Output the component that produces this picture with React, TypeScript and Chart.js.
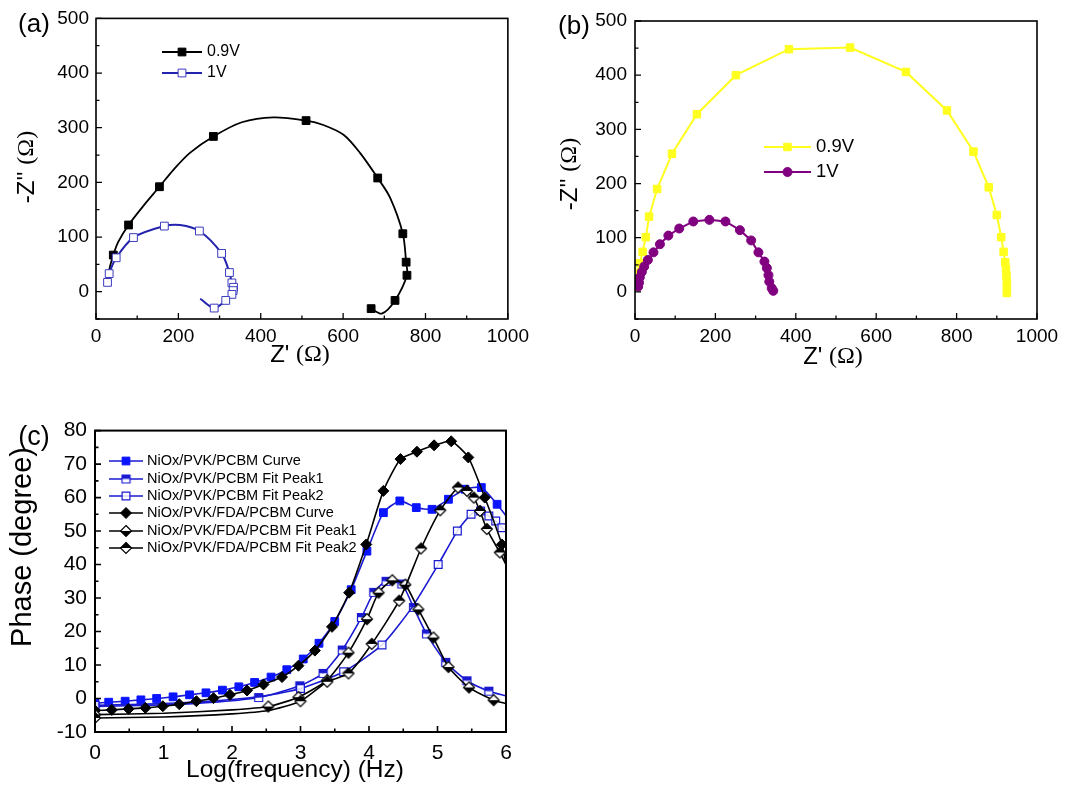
import React, { useEffect, useRef } from 'react';
import { Chart, registerables } from 'chart.js';
import { drawPoint } from 'chart.js/helpers';

Chart.register(...registerables);

const SANS = "Arial, 'Liberation Sans', Helvetica, sans-serif";
const SERIF = "'Times New Roman', 'Liberation Serif', serif";

// ---------- Panel (a): Nyquist ----------
const a09Re = [30, 34, 42, 54, 79, 115, 154, 188, 228, 285, 354, 431, 510, 552, 601, 641, 684, 714, 745, 753, 755, 726, 694, 668];
const a09Im = [30, 46, 67, 91, 122, 157, 192, 223, 254, 284, 310, 319, 313, 305, 287, 254, 208, 172, 106, 54, 30, -16, -40, -31];
const a09NoSymbol = [0, 1, 3, 5, 7, 8, 10, 11, 13, 14, 15, 17, 22];
const a1Re = [28, 32, 49, 91, 166, 204, 251, 305, 324, 330, 334, 333, 330, 315, 287, 253];
const a1Im = [17, 33, 62, 99, 120, 122, 111, 70, 35, 16, 8, 2, -5, -16, -30, -13];
const a1NoSymbol = [5, 15];

// ---------- Panel (b): Nyquist ----------
const b09Re = [3, 6, 12, 19, 27, 35, 55, 92, 154, 251, 383, 535, 674, 776, 842, 880, 900, 911, 917, 921, 923, 924, 925, 925, 925];
const b09Im = [12, 35, 53, 74, 101, 139, 190, 255, 328, 400, 448, 451, 406, 335, 259, 193, 142, 101, 74, 55, 42, 30, 18, 8, -2];
const b1Re = [8, 10, 12, 17, 23, 32, 46, 62, 83, 110, 145, 185, 225, 261, 289, 307, 322, 328, 332, 334, 340, 344];
const b1Im = [10, 17, 27, 37, 47, 59, 73, 88, 104, 117, 130, 133, 130, 114, 95, 73, 56, 44, 31, 19, 7, 2];

// ---------- Panel (c): Bode phase ----------
const cPcbmCurveX = [0, 0.2, 0.44, 0.67, 0.9, 1.14, 1.38, 1.62, 1.86, 2.1, 2.33, 2.57, 2.8, 3.04, 3.27, 3.5, 3.74, 3.97, 4.21, 4.45, 4.69, 4.92, 5.16, 5.4, 5.64, 5.87, 6.0];
const cPcbmCurveY = [-1.4, -1.1, -0.8, -0.4, 0.0, 0.5, 1.1, 1.7, 2.5, 3.5, 4.8, 6.4, 8.6, 11.8, 16.5, 23, 32.5, 44, 55.5, 59, 57, 56.5, 59.5, 62.5, 63, 58, 54.5];
const cPcbmCurveNoSymbol = [26];

const cPcbmPeak1X = [0, 1.0, 1.8, 2.39, 2.99, 3.33, 3.61, 3.89, 4.07, 4.25, 4.48, 4.65, 4.84, 5.12, 5.43, 5.75, 6.0];
const cPcbmPeak1Y = [-2.4, -1.9, -1.0, 0.3, 3.8, 7.5, 14.5, 24.2, 31.7, 35.0, 34.2, 27.2, 19.3, 10.8, 5.3, 2.2, 0.8];
const cPcbmPeak1NoSymbol = [1, 2, 16];

const cPcbmPeak2X = [0, 1.0, 2.0, 2.5, 3.0, 3.63, 4.19, 4.62, 5.01, 5.29, 5.49, 5.63, 5.75, 5.85, 5.94, 6.0];
const cPcbmPeak2Y = [-2.0, -1.5, -0.3, 0.9, 3.0, 8.0, 16, 27, 40, 50, 55, 56, 54.5, 53, 51, 50];
const cPcbmPeak2NoSymbol = [1, 2, 3, 7, 15];

const cFdaCurveX = [0, 0.245, 0.49, 0.735, 0.99, 1.23, 1.48, 1.73, 1.97, 2.22, 2.46, 2.73, 2.97, 3.21, 3.46, 3.71, 3.96, 4.21, 4.46, 4.70, 4.95, 5.20, 5.45, 5.69, 5.94, 6.0];
const cFdaCurveY = [-3.6, -3.4, -3.1, -2.8, -2.3, -1.7, -0.8, 0.1, 1.1, 2.4, 4.2, 6.4, 9.8, 14.3, 21.4, 31.6, 46, 62, 71.5, 73.7, 75.6, 76.8, 72, 60, 46, 40];
const cFdaCurveNoSymbol = [25];

const cFdaPeak1X = [0, 1.0, 2.0, 2.53, 2.97, 3.39, 3.7, 3.97, 4.14, 4.34, 4.53, 4.72, 4.94, 5.16, 5.46, 5.82, 6.0];
const cFdaPeak1Y = [-4.8, -4.4, -3.4, -2.4, 0.4, 5.5, 13.7, 23.7, 31.6, 35.3, 34.0, 26.6, 18.2, 9.4, 3.3, -0.5, -1.5];
const cFdaPeak1NoSymbol = [1, 2, 16];

const cFdaPeak2X = [0, 1.0, 2.0, 2.53, 3.0, 3.39, 3.7, 4.04, 4.44, 4.76, 5.04, 5.30, 5.43, 5.53, 5.62, 5.72, 5.91, 6.0];
const cFdaPeak2Y = [-5.8, -5.5, -4.6, -3.6, -0.8, 5.0, 7.5, 16.3, 29.2, 44.8, 56.2, 63.0, 62.0, 60.0, 56.0, 50.6, 43.6, 40];
const cFdaPeak2NoSymbol = [1, 2, 3, 17];

const aLabels = ['0.9V', '1V'];
const bLabels = ['0.9V', '1V'];
const cLabels = [
  'NiOx/PVK/PCBM Curve',
  'NiOx/PVK/PCBM Fit Peak1',
  'NiOx/PVK/PCBM Fit Peak2',
  'NiOx/PVK/FDA/PCBM Curve',
  'NiOx/PVK/FDA/PCBM Fit Peak1',
  'NiOx/PVK/FDA/PCBM Fit Peak2',
];

const pts = (xs: number[], ys: number[]) => xs.map((x, i) => ({ x, y: ys[i] }));
const symRadius = (r: number, skip: number[]) => (ctx: any) => (skip.includes(ctx.dataIndex) ? 0 : r);

function halfMarker(shape: 'square' | 'diamond', size: number, stroke: string, topFill: string, bottomFill: string) {
  const s = Math.ceil(size) + 3;
  const c = document.createElement('canvas');
  c.width = s;
  c.height = s;
  const g = c.getContext('2d')!;
  const cx = s / 2, cy = s / 2, h = size / 2;
  const path = () => {
    g.beginPath();
    if (shape === 'square') g.rect(cx - h, cy - h, size, size);
    else {
      g.moveTo(cx, cy - h);
      g.lineTo(cx + h, cy);
      g.lineTo(cx, cy + h);
      g.lineTo(cx - h, cy);
      g.closePath();
    }
  };
  g.save(); g.beginPath(); g.rect(0, 0, s, cy); g.clip(); path(); g.fillStyle = topFill; g.fill(); g.restore();
  g.save(); g.beginPath(); g.rect(0, cy, s, s - cy); g.clip(); path(); g.fillStyle = bottomFill; g.fill(); g.restore();
  path(); g.strokeStyle = stroke; g.lineWidth = 1.2; g.stroke();
  return c;
}

type Part = { text: string; font: string };
type PanelDef = {
  box: { left: number; top: number; width: number; height: number };
  area: { left: number; top: number; right: number; bottom: number };
  x: { min: number; max: number; step: number; minor: number; font: number; pad: number };
  y: { min: number; max: number; step: number; minor: number; font: number; pad: number };
  frame: number;
  datasets: () => any[];
  xTitle: { parts: Part[]; x: number; y: number };
  yTitle: { parts: Part[]; x: number; y: number };
  label: { text: string; x: number; y: number; size: number };
  legend: { x0: number; x1: number; textX: number; ys: number[]; font: number; labels: string[] };
};

const isMultiple = (v: number, step: number) => Math.abs(v / step - Math.round(v / step)) < 1e-6;

function drawMixed(ctx: CanvasRenderingContext2D, parts: Part[], cx: number, cy: number, rotate: boolean) {
  ctx.save();
  ctx.translate(cx, cy);
  if (rotate) ctx.rotate(-Math.PI / 2);
  let total = 0;
  parts.forEach((p) => { ctx.font = p.font; total += ctx.measureText(p.text).width; });
  let x = -total / 2;
  ctx.textBaseline = 'middle';
  ctx.textAlign = 'left';
  ctx.fillStyle = '#000';
  parts.forEach((p) => { ctx.font = p.font; ctx.fillText(p.text, x, 0); x += ctx.measureText(p.text).width; });
  ctx.restore();
}

function decor(def: PanelDef) {
  return {
    id: 'decor',
    afterDraw(chart: any) {
      const ctx: CanvasRenderingContext2D = chart.ctx;
      const { left, right, top, bottom } = chart.chartArea;
      const xs = chart.scales.x, ys = chart.scales.y;
      ctx.save();
      ctx.strokeStyle = '#000';
      ctx.lineWidth = def.frame;
      ctx.strokeRect(left, top, right - left, bottom - top);
      ctx.lineWidth = def.frame * 0.8;
      ctx.beginPath();
      for (let v = Math.ceil(def.x.min / def.x.minor) * def.x.minor; v <= def.x.max + 1e-9; v += def.x.minor) {
        const px = xs.getPixelForValue(v);
        const len = isMultiple(v, def.x.step) ? 6 : 3.5;
        ctx.moveTo(px, bottom);
        ctx.lineTo(px, bottom - len);
      }
      for (let v = Math.ceil(def.y.min / def.y.minor) * def.y.minor; v <= def.y.max + 1e-9; v += def.y.minor) {
        const py = ys.getPixelForValue(v);
        const len = isMultiple(v, def.y.step) ? 6 : 3.5;
        ctx.moveTo(left, py);
        ctx.lineTo(left + len, py);
      }
      ctx.stroke();

      drawMixed(ctx, def.xTitle.parts, def.xTitle.x, def.xTitle.y, false);
      drawMixed(ctx, def.yTitle.parts, def.yTitle.x, def.yTitle.y, true);

      ctx.font = `${def.label.size}px ${SANS}`;
      ctx.fillStyle = '#000';
      ctx.textAlign = 'center';
      ctx.textBaseline = 'middle';
      ctx.fillText(def.label.text, def.label.x, def.label.y);

      const lg = def.legend;
      lg.labels.forEach((label, i) => {
        const ds = chart.data.datasets[i];
        const y = lg.ys[i];
        ctx.strokeStyle = ds.borderColor;
        ctx.lineWidth = ds.borderWidth;
        ctx.beginPath();
        ctx.moveTo(lg.x0, y);
        ctx.lineTo(lg.x1, y);
        ctx.stroke();
        ctx.fillStyle = ds.pointBackgroundColor;
        ctx.strokeStyle = ds.pointBorderColor;
        ctx.lineWidth = ds.pointBorderWidth;
        drawPoint(ctx, { pointStyle: ds.pointStyle, rotation: 0, radius: ds.legendRadius, borderWidth: ds.pointBorderWidth }, (lg.x0 + lg.x1) / 2, y);
        ctx.fillStyle = '#000';
        ctx.font = `${lg.font}px ${SANS}`;
        ctx.textAlign = 'left';
        ctx.textBaseline = 'middle';
        ctx.fillText(label, lg.textX, y);
      });
      ctx.restore();
    },
  };
}

const X_H = 40;

function Panel({ def }: { def: PanelDef }) {
  const ref = useRef<HTMLCanvasElement>(null);
  useEffect(() => {
    const axis = (a: PanelDef['x'], isX: boolean) => ({
      type: 'linear',
      min: a.min,
      max: a.max,
      afterFit: (s: any) => {
        if (isX) s.height = X_H;
        else s.width = def.area.left;
      },
      afterBuildTicks: (s: any) => {
        s.ticks = s.ticks.filter((t: any) => isMultiple(t.value, a.step));
      },
      ticks: {
        stepSize: a.step,
        color: '#000',
        font: { family: SANS, size: a.font },
        padding: a.pad,
        maxRotation: 0,
        autoSkip: false,
        callback: (v: any) => String(v),
      },
      grid: { display: false, drawTicks: false },
      border: { display: false },
    });
    const chart = new Chart(ref.current!, {
      type: 'scatter',
      data: { datasets: def.datasets() },
      options: {
        responsive: false,
        animation: false,
        devicePixelRatio: 1,
        layout: {
          padding: {
            left: 0,
            top: def.area.top,
            right: def.box.width - def.area.right,
            bottom: def.box.height - def.area.bottom - X_H,
          },
        },
        plugins: { legend: { display: false }, tooltip: { enabled: false } },
        scales: { x: axis(def.x, true) as any, y: axis(def.y, false) as any },
      },
      plugins: [decor(def) as any],
    });
    return () => chart.destroy();
  }, []);
  return (
    <canvas
      ref={ref}
      width={def.box.width}
      height={def.box.height}
      style={{ position: 'absolute', left: def.box.left, top: def.box.top, width: def.box.width, height: def.box.height }}
    />
  );
}

const A_BLACK = '#000000';
const A_BLUE = '#2323ad';
const B_YELLOW = '#ffff1f';
const B_PURPLE = '#800080';
const C_BLUE = '#1a1ad2';
const C_BLACK = '#000000';

const defA: PanelDef = {
  box: { left: 0, top: 0, width: 535, height: 385 },
  area: { left: 96, top: 15, right: 508, bottom: 319 },
  x: { min: 0, max: 1000, step: 200, minor: 100, font: 19, pad: 6 },
  y: { min: -50, max: 500, step: 100, minor: 50, font: 19, pad: 7 },
  frame: 1.6,
  datasets: () => [
    {
      data: pts(a09Re, a09Im), showLine: true, tension: 0.3,
      borderColor: A_BLACK, borderWidth: 1.8,
      pointStyle: 'rect', pointRadius: symRadius(5.5, a09NoSymbol), legendRadius: 5.5,
      pointBackgroundColor: A_BLACK, pointBorderColor: A_BLACK, pointBorderWidth: 1,
      order: 2,
    },
    {
      data: pts(a1Re, a1Im), showLine: true, tension: 0.3,
      borderColor: A_BLUE, borderWidth: 2,
      pointStyle: 'rect', pointRadius: symRadius(5.5, a1NoSymbol), legendRadius: 5.5,
      pointBackgroundColor: '#ffffff', pointBorderColor: '#3b3bc0', pointBorderWidth: 1,
      order: 1,
    },
  ],
  xTitle: { parts: [{ text: "Z' ", font: `24px ${SANS}` }, { text: '(Ω)', font: `24px ${SERIF}` }], x: 300, y: 355 },
  yTitle: { parts: [{ text: "-Z'' ", font: `24px ${SANS}` }, { text: '(Ω)', font: `24px ${SERIF}` }], x: 27, y: 167 },
  label: { text: '(a)', x: 34, y: 25, size: 26 },
  legend: { x0: 162, x1: 202, textX: 207, ys: [52, 73], font: 16, labels: aLabels },
};

const defB: PanelDef = {
  box: { left: 535, top: 0, width: 538, height: 385 },
  area: { left: 100, top: 21, right: 502, bottom: 319 },
  x: { min: 0, max: 1000, step: 200, minor: 100, font: 19, pad: 6 },
  y: { min: -50, max: 500, step: 100, minor: 50, font: 19, pad: 8 },
  frame: 1.6,
  datasets: () => [
    {
      data: pts(b09Re, b09Im), showLine: true, tension: 0,
      borderColor: B_YELLOW, borderWidth: 2,
      pointStyle: 'rect', pointRadius: 5.3, legendRadius: 5.3,
      pointBackgroundColor: B_YELLOW, pointBorderColor: B_YELLOW, pointBorderWidth: 1,
      order: 2,
    },
    {
      data: pts(b1Re, b1Im), showLine: true, tension: 0,
      borderColor: B_PURPLE, borderWidth: 2,
      pointStyle: 'circle', pointRadius: 4.5, legendRadius: 4.5,
      pointBackgroundColor: B_PURPLE, pointBorderColor: B_PURPLE, pointBorderWidth: 1,
      order: 1,
    },
  ],
  xTitle: { parts: [{ text: "Z' ", font: `24px ${SANS}` }, { text: '(Ω)', font: `24px ${SERIF}` }], x: 298, y: 357 },
  yTitle: { parts: [{ text: "-Z'' ", font: `24px ${SANS}` }, { text: '(Ω)', font: `24px ${SERIF}` }], x: 35, y: 174 },
  label: { text: '(b)', x: 39, y: 27, size: 26 },
  legend: { x0: 229, x1: 276, textX: 281, ys: [147, 172], font: 18.5, labels: bLabels },
};

const defC: PanelDef = {
  box: { left: 0, top: 410, width: 535, height: 383 },
  area: { left: 95, top: 19, right: 506, bottom: 322 },
  x: { min: 0, max: 6, step: 1, minor: 0.5, font: 21, pad: 9 },
  y: { min: -10, max: 80, step: 10, minor: 5, font: 21, pad: 8 },
  frame: 2,
  datasets: () => {
    const bluePeak1 = halfMarker('square', 8, C_BLUE, C_BLUE, '#ffffff');
    const blackPeak1 = halfMarker('diamond', 11, C_BLACK, '#ffffff', C_BLACK);
    const blackPeak2 = halfMarker('diamond', 11, C_BLACK, C_BLACK, '#ffffff');
    return [
      {
        data: pts(cPcbmCurveX, cPcbmCurveY), showLine: true, tension: 0.2,
        borderColor: C_BLUE, borderWidth: 1.6,
        pointStyle: 'rect', pointRadius: symRadius(5.5, cPcbmCurveNoSymbol), legendRadius: 5.5,
        pointBackgroundColor: '#0a14ff', pointBorderColor: '#0a14ff', pointBorderWidth: 1,
        order: 6,
      },
      {
        data: pts(cPcbmPeak1X, cPcbmPeak1Y), showLine: true, tension: 0.2,
        borderColor: C_BLUE, borderWidth: 1.6,
        pointStyle: bluePeak1, pointRadius: symRadius(5, cPcbmPeak1NoSymbol), legendRadius: 5,
        pointBackgroundColor: C_BLUE, pointBorderColor: C_BLUE, pointBorderWidth: 1,
        order: 5,
      },
      {
        data: pts(cPcbmPeak2X, cPcbmPeak2Y), showLine: true, tension: 0.2,
        borderColor: C_BLUE, borderWidth: 1.6,
        pointStyle: 'rect', pointRadius: symRadius(5.5, cPcbmPeak2NoSymbol), legendRadius: 5.5,
        pointBackgroundColor: 'rgba(255,255,255,0.85)', pointBorderColor: C_BLUE, pointBorderWidth: 1.2,
        order: 4,
      },
      {
        data: pts(cFdaCurveX, cFdaCurveY), showLine: true, tension: 0.2,
        borderColor: C_BLACK, borderWidth: 1.6,
        pointStyle: 'rectRot', pointRadius: symRadius(5.5, cFdaCurveNoSymbol), legendRadius: 5.5,
        pointBackgroundColor: C_BLACK, pointBorderColor: C_BLACK, pointBorderWidth: 1,
        order: 3,
      },
      {
        data: pts(cFdaPeak1X, cFdaPeak1Y), showLine: true, tension: 0.2,
        borderColor: C_BLACK, borderWidth: 1.6,
        pointStyle: blackPeak1, pointRadius: symRadius(5.5, cFdaPeak1NoSymbol), legendRadius: 5.5,
        pointBackgroundColor: C_BLACK, pointBorderColor: C_BLACK, pointBorderWidth: 1,
        order: 2,
      },
      {
        data: pts(cFdaPeak2X, cFdaPeak2Y), showLine: true, tension: 0.2,
        borderColor: C_BLACK, borderWidth: 1.6,
        pointStyle: blackPeak2, pointRadius: symRadius(5.5, cFdaPeak2NoSymbol), legendRadius: 5.5,
        pointBackgroundColor: C_BLACK, pointBorderColor: C_BLACK, pointBorderWidth: 1,
        order: 1,
      },
    ];
  },
  xTitle: { parts: [{ text: 'Log(frequency) (Hz)', font: `24.5px ${SANS}` }], x: 295, y: 360 },
  yTitle: { parts: [{ text: 'Phase (degree)', font: `29px ${SANS}` }], x: 23, y: 137 },
  label: { text: '(c)', x: 34, y: 28, size: 27 },
  legend: { x0: 109, x1: 143, textX: 147, ys: [51, 69, 86, 103, 121, 138], font: 14.5, labels: cLabels },
};

export default function App() {
  return (
    <div style={{ position: 'absolute', left: 0, top: 0, width: 1073, height: 793, background: '#ffffff', overflow: 'hidden' }}>
      <Panel def={defA} />
      <Panel def={defB} />
      <Panel def={defC} />
    </div>
  );
}
